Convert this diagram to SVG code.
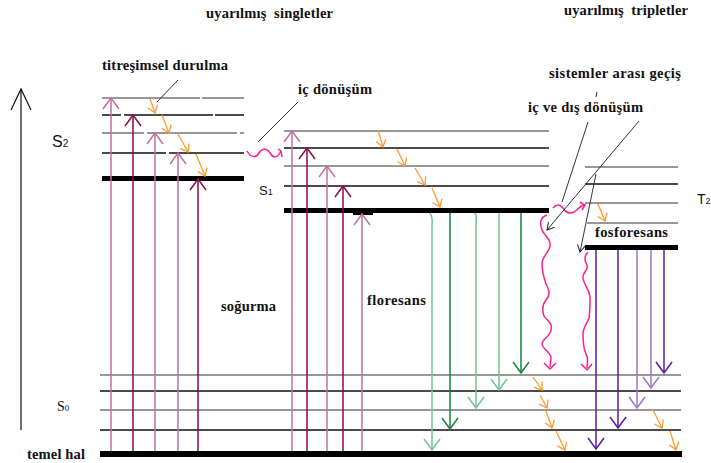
<svg xmlns="http://www.w3.org/2000/svg" width="711" height="463" viewBox="0 0 711 463">
<style>
.lbl{font-family:"Liberation Serif","Times New Roman",serif;font-weight:bold;font-size:14.5px;fill:#111;white-space:pre}
.sym{font-family:"Liberation Sans",Arial,sans-serif;fill:#111}
.lv{stroke-width:1.5;fill:none}
.g{stroke:#777}
.k{stroke:#111}
.bar{fill:#000}
.lp{stroke:#c2709f;stroke-width:1.5;fill:none}
.dp{stroke:#8b0a4a;stroke-width:1.5;fill:none}
.lg{stroke:#72c294;stroke-width:1.5;fill:none}
.dg{stroke:#17803f;stroke-width:1.5;fill:none}
.lu{stroke:#9a76cc;stroke-width:1.5;fill:none}
.du{stroke:#5c1aa6;stroke-width:1.5;fill:none}
.or{stroke:#ff9a30;stroke-width:1.3;fill:none}
.hp{stroke:#ff1e8e;stroke-width:1.5;fill:none}
.ld{stroke:#333;stroke-width:1;fill:none}
</style>
<defs>
<marker id="mlp" markerUnits="userSpaceOnUse" orient="auto" overflow="visible" markerWidth="1" markerHeight="1"><path d="M-11,-8 L0,0 L-11,8" stroke="#c2709f" stroke-width="1.5" fill="none"/></marker>
<marker id="mdp" markerUnits="userSpaceOnUse" orient="auto" overflow="visible" markerWidth="1" markerHeight="1"><path d="M-11,-8 L0,0 L-11,8" stroke="#8b0a4a" stroke-width="1.5" fill="none"/></marker>
<marker id="mlg" markerUnits="userSpaceOnUse" orient="auto" overflow="visible" markerWidth="1" markerHeight="1"><path d="M-11,-8 L0,0 L-11,8" stroke="#72c294" stroke-width="1.5" fill="none"/></marker>
<marker id="mdg" markerUnits="userSpaceOnUse" orient="auto" overflow="visible" markerWidth="1" markerHeight="1"><path d="M-11,-8 L0,0 L-11,8" stroke="#17803f" stroke-width="1.5" fill="none"/></marker>
<marker id="mlu" markerUnits="userSpaceOnUse" orient="auto" overflow="visible" markerWidth="1" markerHeight="1"><path d="M-11,-8 L0,0 L-11,8" stroke="#9a76cc" stroke-width="1.5" fill="none"/></marker>
<marker id="mdu" markerUnits="userSpaceOnUse" orient="auto" overflow="visible" markerWidth="1" markerHeight="1"><path d="M-11,-8 L0,0 L-11,8" stroke="#5c1aa6" stroke-width="1.5" fill="none"/></marker>
<marker id="mor" markerUnits="userSpaceOnUse" orient="auto" overflow="visible" markerWidth="1" markerHeight="1"><path d="M-7,-5 L0,0 L-7,5" stroke="#ff9a30" stroke-width="1.3" fill="none"/></marker>
<marker id="mk" markerUnits="userSpaceOnUse" orient="auto" overflow="visible" markerWidth="1" markerHeight="1"><path d="M-7,-4 L0,0 L-7,4" stroke="#222" stroke-width="1" fill="none"/></marker>
<marker id="max" markerUnits="userSpaceOnUse" orient="auto" overflow="visible" markerWidth="1" markerHeight="1"><path d="M-21,-10 L0,0 L-21,10" stroke="#111" stroke-width="1.2" fill="none"/></marker>
</defs>
<rect width="711" height="463" fill="#fff"/>

<!-- titles -->
<g id="titles">
<text class="lbl" x="206" y="18" textLength="127" lengthAdjust="spacing">uyarılmış  singletler</text>
<text class="lbl" x="564" y="15" textLength="124" lengthAdjust="spacing">uyarılmış  tripletler</text>
</g>

<!-- energy axis -->
<g id="axis">
<line x1="21" y1="430" x2="21" y2="89" stroke="#111" stroke-width="1.2" marker-end="url(#max)"/>
</g>

<!-- S2 levels -->
<g id="S2">
<path class="lv g" d="M102,98H200M202,98H244M102,133H144M147,133H237M240,133H244"/>
<path class="lv k" d="M102,115H121M124,115H213M215,115H244M102,153H166M169,153H244"/>
<rect class="bar" x="102" y="176" width="142" height="5"/>
<text class="sym" x="52" y="147" font-size="16">S<tspan font-size="10">2</tspan></text>
</g>

<!-- S1 levels -->
<g id="S1">
<path class="lv g" d="M284,131H549M284,166H549"/>
<path class="lv k" d="M284,148H549M284,186H549"/>
<rect class="bar" x="284" y="208" width="265" height="5"/>
<rect class="bar" x="353" y="212" width="20" height="3"/>
<text class="sym" x="259" y="195" font-size="13">S<tspan font-size="9">1</tspan></text>
</g>

<!-- S0 levels -->
<g id="S0">
<path class="lv g" d="M100,375H681M100,410H681"/>
<path class="lv k" d="M100,391H681M100,430H681"/>
<rect class="bar" x="100" y="451" width="582" height="6"/>
<text x="57" y="411" font-family="Liberation Serif,serif" font-size="14" fill="#111">S<tspan font-size="9">0</tspan></text>
<text class="lbl" x="27" y="459" textLength="58" lengthAdjust="spacing">temel hal</text>
</g>

<!-- T levels -->
<g id="T">
<path class="lv g" d="M585,167H678M585,203H678M587,223H678"/>
<path class="lv k" d="M585,184H678"/>
<rect class="bar" x="585" y="245" width="93" height="5"/>
<text class="sym" x="697" y="204" font-size="14">T<tspan font-size="9">2</tspan></text>
</g>

<!-- labels -->
<g id="labels">
<text class="lbl" x="102" y="70" textLength="126" lengthAdjust="spacing">titreşimsel durulma</text>
<text class="lbl" x="298" y="94" textLength="74" lengthAdjust="spacing">iç dönüşüm</text>
<text class="lbl" x="549" y="78" textLength="132" lengthAdjust="spacing">sistemler arası geçiş</text>
<text class="lbl" x="528" y="112" textLength="115" lengthAdjust="spacing">iç ve dış dönüşüm</text>
<text class="lbl" x="595" y="237" textLength="73" lengthAdjust="spacing">fosforesans</text>
<text class="lbl" x="221" y="311" textLength="55" lengthAdjust="spacing">soğurma</text>
<text class="lbl" x="367" y="305" textLength="59" lengthAdjust="spacing">floresans</text>
</g>

<g id="connectors">
<!-- absorption S2 -->
<line class="lp" x1="111" y1="451" x2="111" y2="98" marker-end="url(#mlp)"/>
<line class="dp" x1="133" y1="451" x2="133" y2="115" marker-end="url(#mdp)"/>
<line class="lp" x1="155" y1="451" x2="155" y2="133" marker-end="url(#mlp)"/>
<line class="lp" x1="178" y1="451" x2="178" y2="153" marker-end="url(#mlp)"/>
<line class="dp" x1="198" y1="451" x2="198" y2="179" marker-end="url(#mdp)"/>
<!-- absorption S1 -->
<line class="lp" x1="292" y1="451" x2="292" y2="131" marker-end="url(#mlp)"/>
<line class="dp" x1="307" y1="451" x2="307" y2="148" marker-end="url(#mdp)"/>
<line class="lp" x1="327" y1="451" x2="327" y2="166" marker-end="url(#mlp)"/>
<line class="dp" x1="343" y1="451" x2="343" y2="186" marker-end="url(#mdp)"/>
<line class="lp" x1="362" y1="451" x2="362" y2="214" marker-end="url(#mlp)"/>
<!-- fluorescence -->
<path class="lg" d="M430,213 Q433,217 432,225 L432,450" marker-end="url(#mlg)"/>
<line class="dg" x1="450" y1="213" x2="450" y2="429" marker-end="url(#mdg)"/>
<path class="lg" d="M475,213 Q477,216 476,222 L476,408" marker-end="url(#mlg)"/>
<line class="lg" x1="499" y1="213" x2="499" y2="390" marker-end="url(#mlg)"/>
<line class="dg" x1="521" y1="213" x2="521" y2="373" marker-end="url(#mdg)"/>
<!-- phosphorescence -->
<line class="du" x1="596" y1="250" x2="596" y2="449" marker-end="url(#mdu)"/>
<line class="du" x1="618" y1="250" x2="618" y2="428" marker-end="url(#mdu)"/>
<line class="lu" x1="637" y1="250" x2="637" y2="408" marker-end="url(#mlu)"/>
<line class="lu" x1="651" y1="250" x2="651" y2="388" marker-end="url(#mlu)"/>
<line class="du" x1="664" y1="250" x2="664" y2="373" marker-end="url(#mdu)"/>
<!-- vibrational relaxation -->
<line class="or" x1="150" y1="99" x2="155" y2="113" marker-end="url(#mor)"/>
<line class="or" x1="162" y1="115" x2="169" y2="133" marker-end="url(#mor)"/>
<line class="or" x1="178" y1="134" x2="188" y2="152" marker-end="url(#mor)"/>
<line class="or" x1="196" y1="154" x2="205" y2="176" marker-end="url(#mor)"/>
<line class="or" x1="378" y1="130" x2="383" y2="147" marker-end="url(#mor)"/>
<line class="or" x1="397" y1="149" x2="405" y2="166" marker-end="url(#mor)"/>
<line class="or" x1="415" y1="168" x2="425" y2="185" marker-end="url(#mor)"/>
<line class="or" x1="432" y1="188" x2="440" y2="207" marker-end="url(#mor)"/>
<line class="or" x1="533" y1="377" x2="542" y2="390" marker-end="url(#mor)"/>
<line class="or" x1="540" y1="395" x2="547" y2="408" marker-end="url(#mor)"/>
<line class="or" x1="546" y1="411" x2="552" y2="428" marker-end="url(#mor)"/>
<line class="or" x1="556" y1="431" x2="565" y2="450" marker-end="url(#mor)"/>
<line class="or" x1="653" y1="410" x2="662" y2="428" marker-end="url(#mor)"/>
<line class="or" x1="670" y1="431" x2="676" y2="450" marker-end="url(#mor)"/>
<line class="or" x1="598" y1="204" x2="605" y2="221" marker-end="url(#mor)"/>
<!-- internal conversion wave -->
<path class="hp" d="M247,151 C251,158 256,158 259,153 C262,148 267,148 270,153 C273,158 277,159 281,151"/>
<path class="hp" d="M278,149 L281,151 L282,157"/>
<!-- intersystem crossing wave -->
<path class="hp" d="M553,208 C556,204 560,204 563,208 C566,213 570,214 574,212 C578,210 579,206 584,205"/>
<path class="hp" d="M580,202 L585,205 L582,210"/>
<!-- S1 downward wave -->
<path class="hp" d="M547,215 C539,218 540,224 542,230 C544,236 551,238 550,246 C549,253 542,256 542,264 C542,272 544,278 546,284 C549,290 551,294 546,300 C542,305 542,310 544,316 C546,320 553,322 551,330 C550,337 542,339 542,344 C543,350 551,352 551,358 L550,367"/>
<path class="hp" d="M544,363 L550,369 L556,363"/>
<!-- T1 downward wave -->
<path class="hp" d="M588,252 C584,256 584,260 587,265 C589,270 582,272 583,278 C584,286 590,290 590,298 C590,306 590,312 589,318 C587,324 583,327 583,334 C583,342 583,348 586,354 C589,359 587,363 587,368"/>
<path class="hp" d="M581,364 L587,370 L592,364"/>
<!-- leaders -->
<line class="ld" x1="178" y1="80" x2="157" y2="102"/>
<line class="ld" x1="298" y1="102" x2="258" y2="142"/>
<line class="ld" x1="588" y1="122" x2="562" y2="202"/>
<line class="ld" x1="597" y1="92" x2="596" y2="97"/>
<line class="ld" x1="639" y1="121" x2="547" y2="230" marker-end="url(#mk)"/>
<line class="ld" x1="596" y1="174" x2="580" y2="252" marker-end="url(#mk)"/>
</g>
</svg>
